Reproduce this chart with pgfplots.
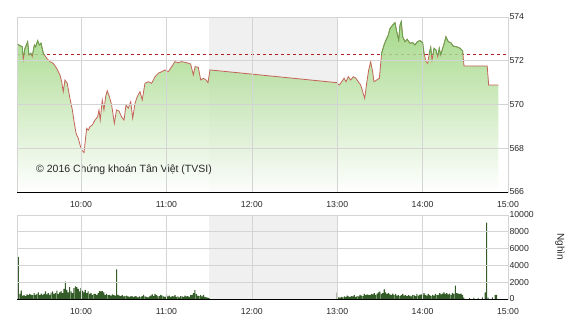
\documentclass[border=0pt]{standalone}
\usepackage{pgfplots}
\pgfplotsset{compat=1.18}
\usepackage{pgfplotstable}
\usepackage{fontspec}
\setmainfont{Liberation Sans}

\definecolor{gridc}{RGB}{212,212,212}
\definecolor{bandc}{RGB}{240,240,240}
\definecolor{fillc}{RGB}{150,210,118}
\definecolor{redline}{RGB}{196,100,88}
\definecolor{greenline}{RGB}{96,168,76}
\definecolor{dashc}{RGB}{176,32,32}
\definecolor{volc}{RGB}{52,92,40}
\definecolor{txtc}{RGB}{40,40,40}

\pgfplotstableread{
m v
15.5 572.75
16.4 572.72
18.7 572.64
19.4 572.07
20.6 572.57
22.5 572.87
23.4 572.26
24.8 572.34
25.7 572.19
27.2 572.72
28.1 572.64
29.5 572.92
30.7 572.72
31.9 572.80
33.5 572.34
35.9 572.11
38.2 571.96
40.5 571.88
42.9 571.65
45.2 571.35
46.4 571.04
47.5 570.59
48.7 571.12
50.3 570.97
52.2 570.28
53.9 569.75
55.3 569.14
56.5 568.68
58.1 568.45
59.3 568.15
60.5 567.92
62.1 567.80
63.3 568.53
64.0 568.91
65.1 568.83
66.3 568.99
67.9 569.06
69.8 569.29
71.7 569.44
72.6 569.75
73.5 569.29
74.9 570.21
76.1 569.75
77.3 570.36
78.4 570.63
79.9 570.36
81.5 569.98
83.4 569.14
84.9 569.75
86.7 569.70
88.4 569.44
90.2 569.29
91.6 569.98
93.2 569.83
94.9 570.13
96.3 569.37
97.9 570.05
99.5 570.36
101.4 570.59
103.0 570.21
104.9 570.97
107.3 571.04
109.6 570.97
112.0 571.27
114.3 571.43
116.7 571.50
119.0 571.58
121.3 571.50
123.7 571.73
126.0 571.96
128.3 571.91
130.7 571.96
134.2 571.91
137.0 571.85
138.9 571.35
140.1 571.73
142.4 571.70
144.1 571.12
145.9 571.20
147.8 571.12
149.2 571.00
150.6 571.58
239.6 571.00
241.4 570.89
243.1 571.04
244.8 571.20
246.2 571.04
247.8 571.27
249.5 571.12
251.3 571.27
253.2 571.20
254.8 571.04
256.5 570.89
257.9 570.59
259.3 570.28
260.7 570.97
262.1 571.58
263.5 571.96
264.9 571.50
265.8 571.04
267.7 571.12
269.6 571.20
271.2 572.34
272.9 572.72
274.3 572.95
275.9 573.18
277.1 573.48
279.0 573.63
280.6 573.74
281.8 573.33
283.2 572.95
284.1 573.63
285.0 573.79
286.0 573.10
287.6 572.87
289.2 572.98
291.1 572.80
293.0 572.83
294.6 572.72
296.3 572.87
298.1 572.92
300.0 572.83
301.0 572.34
302.4 571.96
303.6 571.88
304.7 572.34
305.7 572.61
306.6 572.03
308.0 572.57
309.4 572.49
310.6 572.19
311.7 572.57
312.7 572.26
314.1 572.57
315.2 572.80
316.4 573.10
318.0 572.87
319.7 572.83
321.5 572.67
323.9 572.64
326.3 572.57
328.1 572.46
329.1 571.76
345.4 571.76
346.4 570.89
353.2 570.89
}\price

\pgfplotstableread{
m vol
16 5000
17 600
18 1000
19 400
20 500
21 350
22 550
23 450
24 600
25 500
26 450
27 700
28 500
29 600
30 800
31 450
32 650
33 500
34 600
35 900
36 550
37 700
38 500
39 750
40 900
41 600
42 700
43 1000
44 600
45 800
46 950
47 700
48 1200
49 2060
50 1100
51 800
52 1400
53 900
54 700
55 1300
56 1500
57 1400
58 1200
59 900
60 1300
61 1000
62 800
63 1100
64 700
65 900
66 600
67 700
68 500
69 600
70 600
71 500
72 700
73 950
74 900
75 950
76 800
77 500
78 600
79 450
80 500
81 400
82 550
83 450
84 400
85 3530
86 500
87 400
88 350
89 450
90 300
91 350
92 400
93 300
94 250
95 350
96 300
97 250
98 350
99 300
100 200
101 300
102 250
103 350
104 500
105 300
106 250
107 200
108 300
109 400
110 550
111 350
112 600
113 450
114 300
115 350
116 500
117 400
118 300
119 250
120 550
121 300
122 400
123 250
124 350
125 300
126 450
127 250
128 300
129 200
130 350
131 300
132 250
133 400
134 300
135 350
136 250
137 450
138 500
139 700
140 1070
141 600
142 400
143 350
144 450
145 300
146 500
147 250
148 200
149 150
150 100
240 750
241 200
242 150
243 250
244 200
245 300
246 250
247 400
248 300
249 250
250 350
251 300
252 450
253 250
254 350
255 300
256 500
257 400
258 350
259 600
260 450
261 550
262 500
263 450
264 600
265 550
266 700
267 500
268 650
269 800
270 900
271 600
272 700
273 1150
274 800
275 600
276 700
277 550
278 500
279 650
280 450
281 600
282 400
283 500
284 350
285 450
286 600
287 400
288 500
289 350
290 450
291 400
292 300
293 500
294 450
295 350
296 600
297 400
298 500
299 550
300 450
301 700
302 500
303 400
304 600
305 450
306 350
307 500
308 400
309 600
310 450
311 500
312 700
313 550
314 650
315 800
316 600
317 700
318 550
319 650
320 500
321 700
322 600
323 1580
324 700
325 650
326 600
327 650
328 500
329 150
333 100
336 150
339 100
342 200
344 800
345 9100
346 150
349 200
351 480
352 480
}\vol

\pgfplotsset{
  chartstyle/.style={
    anchor=south west, scale only axis, width=491pt,
    xmin=15, xmax=360,
    xtick={60,120,180,240,300,360},
    xticklabels={10:00,11:00,12:00,13:00,14:00,15:00},
    yticklabel pos=right,
    grid=major, grid style={color=gridc, line width=0.6pt},
    axis line style={gridc, line width=0.6pt},
    major tick length=0pt,
    tick label style={font=\fontsize{8.7}{10}\selectfont, text=txtc},
    yticklabel style={anchor=west, xshift=-2pt},
    xticklabel style={yshift=-5.5pt},
    /pgf/number format/assume math mode=true,
    axis on top,
  }
}

\begin{document}
\begin{tikzpicture}
\useasboundingbox (0,0) rectangle (570pt,320pt);

% price panel
\begin{axis}[chartstyle, at={(17pt,128pt)}, height=175pt,
  ymin=566, ymax=574, ytick={566,568,570,572,574}]
\fill[bandc] (axis cs:150,566) rectangle (axis cs:240,574);
\addplot[dashc, dashed, line width=0.8pt] coordinates {(15,572.3) (360,572.3)};
\addplot[draw=none, top color=fillc, bottom color=white, fill opacity=0.85] table[x=m,y=v]{\price} \closedcycle;
\addplot[redline, line width=0.8pt] table[x=m,y=v]{\price};
\node[anchor=west, font=\fontsize{10.5}{12}\selectfont, text=txtc] at (axis cs:26,567.0) {© 2016 Chứng khoán Tân Việt (TVSI)};
\end{axis}

% green part of line above reference
\begin{axis}[at={(17pt,265.81pt)}, anchor=south west, scale only axis,
  width=491pt, height=37.19pt, xmin=15, xmax=360, ymin=572.3, ymax=574, hide axis]
\addplot[greenline, line width=0.8pt] table[x=m,y=v]{\price};
\end{axis}
\draw[black, line width=0.9pt] (17pt,128pt) -- (508pt,128pt);

% volume panel
\begin{axis}[chartstyle, at={(17pt,21pt)}, height=84pt,
  ymin=0, ymax=10000, ytick={0,2000,4000,6000,8000,10000},
  scaled y ticks=false,
  yticklabel style={/pgf/number format/.cd, fixed, 1000 sep={}}]
\fill[bandc] (axis cs:150,0) rectangle (axis cs:240,10000);
\addplot[ybar, bar width=0.8, fill=volc, draw=none] table[x=m,y=vol]{\vol};
\end{axis}
\draw[black, line width=0.9pt] (17pt,21pt) -- (508pt,21pt);

\node[rotate=-90, font=\fontsize{10}{12}\selectfont, text=txtc] at (560pt,73pt) {Nghìn};
\end{tikzpicture}
\end{document}
